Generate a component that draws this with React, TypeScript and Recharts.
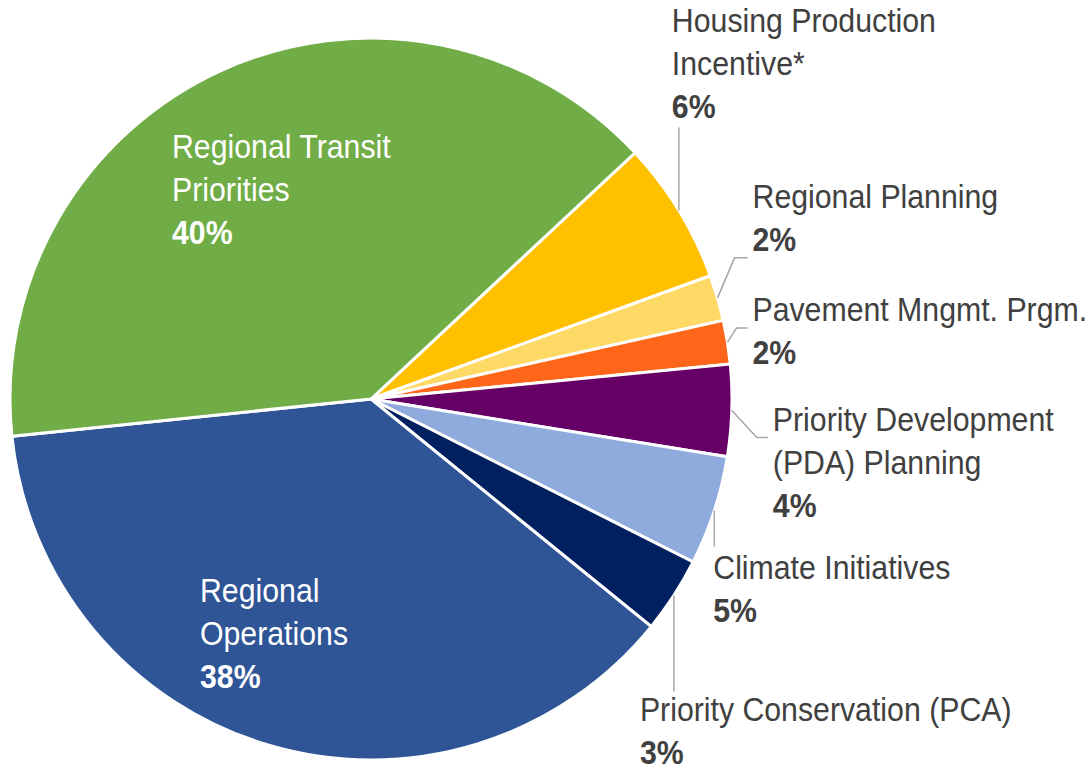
import React from "react";
import { PieChart, Pie, Cell } from "recharts";

// ---- Data ----
const categories = [
  "Housing Production\nIncentive*",
  "Regional Planning",
  "Pavement Mngmt. Prgm.",
  "Priority Development\n(PDA) Planning",
  "Climate Initiatives",
  "Priority Conservation (PCA)",
  "Regional\nOperations",
  "Regional Transit\nPriorities",
];
const shares = [6.4, 2.05, 1.95, 4.1, 4.9, 3.4, 37.5, 39.7];
const colors = [
  "#FFC000",
  "#FFD966",
  "#FF661A",
  "#660066",
  "#8FAADC",
  "#002060",
  "#2F5597",
  "#70AD47",
];

// ---- Label layout (relative to each slice's outer edge midpoint, or center for inside labels) ----
type Layout = {
  inside?: boolean;
  line?: [number, number][];
  tx: number;
  ty: number;
};
const labelLayout: Layout[] = [
  { line: [[0, -83]], tx: -7, ty: -178 },
  { line: [[17, -40], [30, -40]], tx: 35, ty: -90 },
  { line: [[9, -14], [20, -14]], tx: 25, ty: -21 },
  { line: [[25, 27], [36, 27]], tx: 41, ty: 21 },
  { line: [[0, 36]], tx: -1, ty: 68 },
  { line: [[0, 96]], tx: -34, ty: 126 },
  { inside: true, tx: -171, ty: 203 },
  { inside: true, tx: -199, ty: -241 },
];

const data = categories.map((name, i) => ({ name, value: shares[i] }));

const RAD = Math.PI / 180;
const FONT = "'Liberation Sans', Arial, sans-serif";
const FONT_SIZE = 33;
const SCALE_X = 0.917;
const LINE_H = 43;

const renderLabel = (props: any) => {
  const { cx, cy, midAngle, outerRadius, index, percent, name } = props;
  const lay = labelLayout[index];
  const ex = cx + outerRadius * Math.cos(-midAngle * RAD);
  const ey = cy + outerRadius * Math.sin(-midAngle * RAD);
  const bx = lay.inside ? cx : ex;
  const by = lay.inside ? cy : ey;
  const lines = String(name).split("\n");
  const fill = lay.inside ? "#FFFFFF" : "#404040";
  const pct = `${Math.round(percent * 100)}%`;
  const pts = lay.line
    ? [[ex, ey], ...lay.line.map(([dx, dy]) => [ex + dx, ey + dy])]
    : null;
  const tx = bx + lay.tx;
  const ty = by + lay.ty;
  return (
    <g key={`lbl-${index}`}>
      {pts && (
        <polyline
          points={pts.map((p) => p.join(",")).join(" ")}
          fill="none"
          stroke="#A6A6A6"
          strokeWidth={1.5}
        />
      )}
      <text
        x={0}
        y={0}
        transform={`translate(${tx},${ty}) scale(${SCALE_X},1)`}
        fill={fill}
        fontFamily={FONT}
        fontSize={FONT_SIZE}
        textAnchor="start"
      >
        {lines.map((l, i) => (
          <tspan key={i} x={0} dy={i === 0 ? 0 : LINE_H}>
            {l}
          </tspan>
        ))}
        <tspan x={0} dy={LINE_H} fontWeight="bold">
          {pct}
        </tspan>
      </text>
    </g>
  );
};

export default function App() {
  return (
    <div style={{ position: "absolute", left: 0, top: 0, width: 1092, height: 768, background: "#fff" }}>
      <PieChart width={1092} height={768} margin={{ top: 0, right: 0, bottom: 0, left: 0 }}>
        <Pie
          data={data}
          dataKey="value"
          nameKey="name"
          cx={371}
          cy={399}
          outerRadius={361}
          startAngle={43}
          endAngle={-317}
          stroke="#FFFFFF"
          strokeWidth={3}
          label={renderLabel}
          labelLine={false}
          isAnimationActive={false}
        >
          {data.map((d, i) => (
            <Cell key={d.name} fill={colors[i]} />
          ))}
        </Pie>
      </PieChart>
    </div>
  );
}
